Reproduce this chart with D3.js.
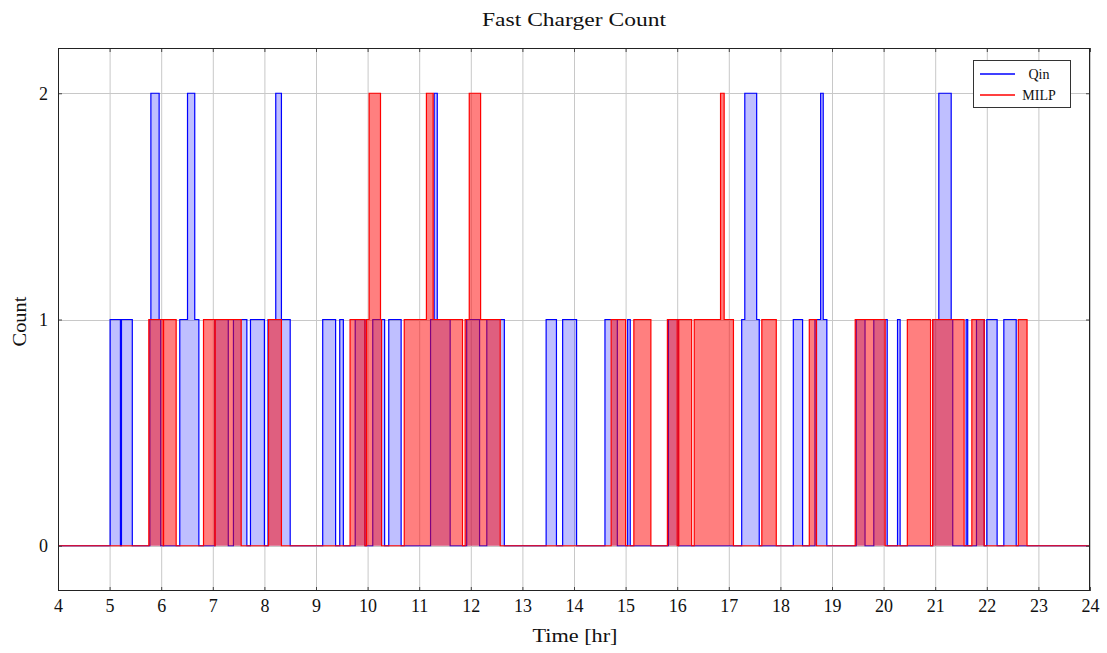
<!DOCTYPE html>
<html>
<head>
<meta charset="utf-8">
<script src="https://cdn.jsdelivr.net/npm/d3@7"></script>
<style>
  html, body { margin: 0; padding: 0; background: #fff; }
  svg { display: block; font-family: "Liberation Serif", "DejaVu Serif", serif; }
</style>
</head>
<body>
<svg id="chart" width="1107" height="653"></svg>
<script>
// ---- data: step functions (time in hr where the count changes, count from that time on) ----
const qinTimes = [4, 5.01, 5.21, 5.23, 5.44, 5.78, 5.80, 5.96, 5.99, 6.36, 6.51, 6.65, 6.73,
  7.04, 7.30, 7.40, 7.66, 7.73, 8.00, 8.07, 8.22, 8.33, 8.50, 9.13, 9.38, 9.46, 9.53,
  9.76, 9.95, 10.10, 10.33, 10.41, 10.65, 11.22, 11.29, 11.35, 11.60, 11.92, 12.17,
  12.31, 12.65, 13.46, 13.66, 13.78, 14.05, 14.60, 14.84, 15.04, 15.09, 15.83, 16.02,
  17.25, 17.31, 17.54, 17.59, 18.25, 18.43, 18.67, 18.78, 18.83, 18.90, 19.47, 19.64,
  19.81, 20.07, 20.27, 20.32, 20.95, 21.07, 21.31, 21.34, 21.60, 21.63, 21.80, 21.95,
  22.00, 22.20, 22.33, 22.57, 24];
const qinCounts = [0, 1, 0, 1, 0, 1, 2, 1, 0, 1, 2, 1, 0,
  1, 0, 1, 0, 1, 0, 1, 2, 1, 0, 1, 0, 1, 0,
  1, 0, 1, 0, 1, 0, 1, 2, 1, 0, 1, 0,
  1, 0, 1, 0, 1, 0, 1, 0, 1, 0, 1, 0,
  1, 2, 1, 0, 1, 0, 1, 2, 1, 0, 1, 0,
  1, 0, 1, 0, 1, 2, 1, 0, 1, 0, 1, 0,
  1, 0, 1, 0, 0];

const milpTimes = [4, 5.76, 6.04, 6.046, 6.29, 6.82, 7.04, 7.046, 7.55, 8.08, 8.33,
  9.66, 9.95, 9.98, 10.03, 10.25, 10.27, 10.71, 11.14, 11.27, 11.84, 11.89, 11.97,
  12.19, 12.57, 14.72, 15.00, 15.16, 15.49, 15.81, 16.00, 16.03, 16.28, 16.33, 16.84,
  16.91, 17.09, 17.64, 17.92, 18.56, 18.70, 19.45, 20.03, 20.46, 20.91, 20.95, 21.56,
  21.71, 21.95, 22.61, 22.78, 24];
const milpCounts = [0, 1, 0, 1, 0, 1, 0, 1, 0, 1, 0,
  1, 0, 1, 2, 1, 0, 1, 2, 1, 0, 1, 2,
  1, 0, 1, 0, 1, 0, 1, 0, 1, 0, 1, 2,
  1, 0, 1, 0, 1, 0, 1, 0, 1, 0, 1, 0,
  1, 0, 1, 0, 0];

const xTicks = d3.range(4, 25, 1);
const yTicks = [0, 1, 2];
const seriesNames = ["Qin", "MILP"];

// ---- layout ----
const svg = d3.select("#chart");
const L = 58, R = 1090, T = 48, B = 591;
const x = d3.scaleLinear().domain([4, 24]).range([L, R]);
const y = d3.scaleLinear().domain([-0.2, 2.2]).range([B, T]);

const toPts = (ts, cs) => ts.map((t, i) => ({t: t, c: cs[i]}));
const qin = toPts(qinTimes, qinCounts);
const milp = toPts(milpTimes, milpCounts);

// grid
const grid = svg.append("g");
grid.selectAll("line.gx").data(xTicks).join("line")
  .attr("x1", d => x(d) + 0.5).attr("x2", d => x(d) + 0.5)
  .attr("y1", T).attr("y2", B)
  .attr("stroke", "#c8c8c8").attr("stroke-width", 1);
grid.selectAll("line.gy").data(yTicks).join("line")
  .attr("y1", d => Math.round(y(d)) + 0.5).attr("y2", d => Math.round(y(d)) + 0.5)
  .attr("x1", L).attr("x2", R)
  .attr("stroke", "#c8c8c8").attr("stroke-width", 1);

// clip
svg.append("clipPath").attr("id", "clip").append("rect")
  .attr("x", L).attr("y", T).attr("width", R - L).attr("height", B - T);
const plot = svg.append("g").attr("clip-path", "url(#clip)");

const area = d3.area().curve(d3.curveStepAfter)
  .x(d => x(d.t)).y0(y(0)).y1(d => y(d.c));
const line = d3.line().curve(d3.curveStepAfter)
  .x(d => x(d.t)).y(d => y(d.c));

function drawSeries(data, color, fillOpacity) {
  plot.append("path").datum(data).attr("d", area)
    .attr("fill", color).attr("fill-opacity", fillOpacity).attr("stroke", "none");
  plot.append("path").datum(data).attr("d", line)
    .attr("fill", "none").attr("stroke", color).attr("stroke-width", 1.2)
    .attr("stroke-linejoin", "miter");
}
drawSeries(qin, "#0000ff", 0.25);
drawSeries(milp, "#ff0000", 0.5);

// axes (pgfplots-like: inward ticks on all sides)
const xAxisB = d3.axisBottom(x).tickValues(xTicks).tickSize(-4).tickPadding(8).tickFormat(d3.format("d"));
const xAxisT = d3.axisTop(x).tickValues(xTicks).tickSize(-4).tickFormat("");
const yAxisL = d3.axisLeft(y).tickValues(yTicks).tickSize(-4).tickPadding(10).tickFormat(d3.format("d"));
const yAxisR = d3.axisRight(y).tickValues(yTicks).tickSize(-4).tickFormat("");

function styleAxis(g) {
  g.select(".domain").remove();
  g.selectAll(".tick line").attr("stroke", "#444");
  g.selectAll(".tick text").attr("fill", "#111").attr("font-size", 18)
    .attr("font-family", "Liberation Serif, DejaVu Serif, serif");
}
svg.append("g").attr("transform", `translate(0,${B})`).call(xAxisB).call(styleAxis);
svg.append("g").attr("transform", `translate(0,${T})`).call(xAxisT).call(styleAxis);
svg.append("g").attr("transform", `translate(${L},0)`).call(yAxisL).call(styleAxis);
svg.append("g").attr("transform", `translate(${R},0)`).call(yAxisR).call(styleAxis);

// frame
svg.append("rect").attr("x", L + 0.5).attr("y", T + 0.5)
  .attr("width", R - L - 1).attr("height", B - T - 1)
  .attr("fill", "none").attr("stroke", "#222").attr("stroke-width", 1);

// title and labels
svg.append("text").attr("x", (L + R) / 2).attr("y", 26).attr("text-anchor", "middle")
  .attr("font-size", 18).attr("fill", "#111")
  .attr("textLength", 184).attr("lengthAdjust", "spacingAndGlyphs")
  .text("Fast Charger Count");
svg.append("text").attr("x", (L + R) / 2 + 1).attr("y", 642).attr("text-anchor", "middle")
  .attr("font-size", 18).attr("fill", "#111")
  .attr("textLength", 85).attr("lengthAdjust", "spacingAndGlyphs")
  .text("Time [hr]");
svg.append("text").attr("transform", `translate(26,${(T + B) / 2 + 2}) rotate(-90)`)
  .attr("text-anchor", "middle").attr("font-size", 18).attr("fill", "#111")
  .attr("textLength", 50).attr("lengthAdjust", "spacingAndGlyphs")
  .text("Count");

// legend
const lg = svg.append("g");
lg.append("rect").attr("x", 973.5).attr("y", 60.5).attr("width", 97).attr("height", 47)
  .attr("fill", "#fff").attr("stroke", "#333").attr("stroke-width", 1);
const legColors = ["#0000ff", "#ff0000"];
seriesNames.forEach((name, i) => {
  const yy = 74 + i * 21;
  lg.append("line").attr("x1", 980).attr("x2", 1015).attr("y1", yy).attr("y2", yy)
    .attr("stroke", legColors[i]).attr("stroke-width", 1.5);
  lg.append("text").attr("x", 1039).attr("y", yy + 4.5).attr("text-anchor", "middle")
    .attr("font-size", 14).attr("fill", "#111").text(name);
});
</script>
</body>
</html>
